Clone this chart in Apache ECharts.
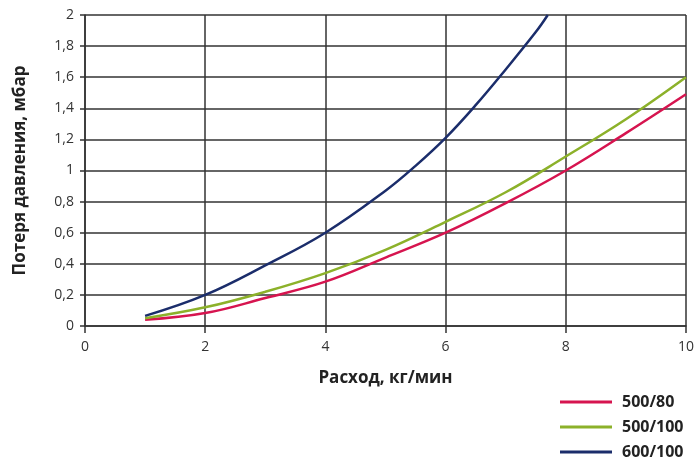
<!DOCTYPE html>
<html><head><meta charset="utf-8">
<script src="https://cdn.jsdelivr.net/npm/echarts@6/dist/echarts.min.js"></script>
<style>html,body{margin:0;padding:0;background:#fff}#c{width:697px;height:459px}</style>
</head><body><div id="c"></div>
<script>
const xValues = [1, 2, 3, 4, 5, 6, 7, 8, 9, 10];
const red500_80 = [0.04, 0.083, 0.18, 0.285, 0.44, 0.6, 0.79, 1.0, 1.24, 1.49];
const green500_100 = [0.05, 0.12, 0.22, 0.34, 0.49, 0.67, 0.86, 1.09, 1.33, 1.6];
const blueX = [1, 2, 3, 4, 5, 5.5, 6, 6.5, 7, 7.5, 7.7];
const blue600_100 = [0.065, 0.2, 0.39, 0.6, 0.87, 1.03, 1.21, 1.42, 1.65, 1.89, 2.0];
const seriesNames = ['500/80', '500/100', '600/100'];
const colors = ['#d6144f', '#8cb12a', '#1b2d6b'];

const pairs = (xs, ys) => xs.map((x, i) => [x, ys[i]]);
const font = '"Open Sans", "Noto Sans", sans-serif';
const legendTops = [394, 419, 444];

const chart = echarts.init(document.getElementById('c'));
chart.setOption({
  animation: false,
  textStyle: { fontFamily: font },
  grid: { left: 85, right: 10, top: 15, bottom: 133 },
  xAxis: {
    type: 'value', min: 0, max: 10, interval: 2,
    name: 'Расход, кг/мин', nameLocation: 'middle', nameGap: 44,
    nameTextStyle: { fontWeight: 'bold', fontSize: 17, color: '#222', fontFamily: font },
    axisLine: { show: true, lineStyle: { color: '#333', width: 1.5 } },
    axisTick: { show: true, length: 7, lineStyle: { color: '#333', width: 1.5 } },
    axisLabel: { color: '#333', fontSize: 14, margin: 14, fontFamily: font },
    splitLine: { show: true, lineStyle: { color: '#333', width: 1.5 } }
  },
  yAxis: {
    type: 'value', min: 0, max: 2, interval: 0.2,
    name: 'Потеря давления, мбар', nameLocation: 'middle', nameGap: 56, nameRotate: 90,
    nameTextStyle: { fontWeight: 'bold', fontSize: 17, color: '#222', fontFamily: font },
    axisLine: { show: true, lineStyle: { color: '#333', width: 1.5 } },
    axisTick: { show: true, length: 5, lineStyle: { color: '#333', width: 1.5 } },
    axisLabel: { color: '#333', fontSize: 14, margin: 11, fontFamily: font,
      formatter: v => String(Math.round(v * 10) / 10).replace('.', ',') },
    splitLine: { show: true, lineStyle: { color: '#333', width: 1.5 } }
  },
  legend: seriesNames.map((n, i) => ({
    orient: 'vertical', left: 560, top: legendTops[i], itemWidth: 52, itemHeight: 3,
    icon: 'rect', padding: 0,
    textStyle: { fontWeight: 'bold', fontSize: 16, color: '#222', fontFamily: font, lineHeight: 16, padding: [0, 0, 0, 5] },
    data: [n]
  })),
  series: [
    { name: seriesNames[0], type: 'line', smooth: 0.4, showSymbol: false, color: colors[0],
      lineStyle: { width: 2.5 }, data: pairs(xValues, red500_80) },
    { name: seriesNames[1], type: 'line', smooth: 0.4, showSymbol: false, color: colors[1],
      lineStyle: { width: 2.5 }, data: pairs(xValues, green500_100) },
    { name: seriesNames[2], type: 'line', smooth: 0.4, showSymbol: false, color: colors[2],
      lineStyle: { width: 2.5 }, data: pairs(blueX, blue600_100) }
  ]
});
</script></body></html>
